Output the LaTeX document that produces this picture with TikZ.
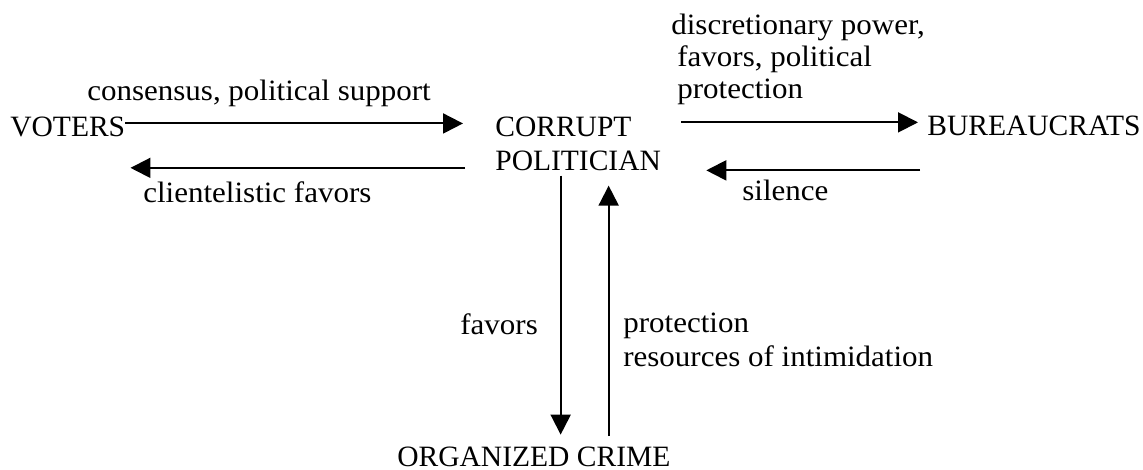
\documentclass[tikz,border=0pt]{standalone}
\usepackage{fontspec}
\setmainfont{Liberation Serif}
\newfontfamily\labelfont{Liberation Serif}[FakeStretch=1.05]
\usetikzlibrary{arrows.meta}

\begin{document}
\begin{tikzpicture}[x=0.02cm,y=-0.02cm,
  every node/.style={inner sep=0pt,anchor=base west,font=\fontsize{16.8}{18.8}\selectfont},
  lbl/.style={font=\labelfont\fontsize{16.8}{18.8}\selectfont,align=left},
  flow/.style={-{Triangle[length=0.4cm,width=0.4cm]},line width=1.1pt}]
  \useasboundingbox (0,0) rectangle (1143,470);

  \node (voters) at (10,136) {VOTERS};
  \node[align=left] (pol) at (495,170) {CORRUPT\\POLITICIAN};
  \node (bur) at (927,135) {BUREAUCRATS};
  \node (crime) at (397,466) {ORGANIZED CRIME};

  \node[lbl] (consensus) at (87,100) {consensus, political support};
  \node[lbl] (clientel) at (143,202) {clientelistic favors};
  \node[lbl,font=\labelfont\fontsize{16.8}{18.2}\selectfont] (discr) at (671,98)
    {discretionary power,\\\hspace*{0.12cm}favors, political\\\hspace*{0.12cm}protection};
  \node[lbl] (silence) at (742,200) {silence};
  \node[lbl] (favors) at (460,334) {favors};
  \node[lbl] (protect) at (623,366) {protection\\resources of intimidation};

  \draw[flow,shorten >=0.64cm] ([yshift=0.06cm]voters.east) -- ([yshift=0.06cm]voters.east -| pol.west);
  \draw[flow,shorten <=0.6cm,shorten >=0.1cm] ([yshift=-0.48cm]pol.west) -- ([yshift=-0.48cm]pol.west -| voters.east);
  \draw[flow,shorten <=0.4cm,shorten >=0.18cm] ([yshift=0.06cm]bur.west -| pol.east) -- ([yshift=0.06cm]bur.west);
  \draw[flow,shorten <=0.14cm,shorten >=0.9cm] ([yshift=-0.9cm]bur.west) -- ([yshift=-0.9cm]bur.west -| pol.east);
  \draw[flow,shorten <=0.1cm,shorten >=0.23cm] ([xshift=-0.35cm]pol.south) -- ([xshift=-0.35cm]pol.south |- crime.north);
  \draw[flow,shorten <=0.2cm,shorten >=0.3cm] ([xshift=0.61cm]pol.south |- crime.north) -- ([xshift=0.61cm]pol.south);
\end{tikzpicture}
\end{document}
